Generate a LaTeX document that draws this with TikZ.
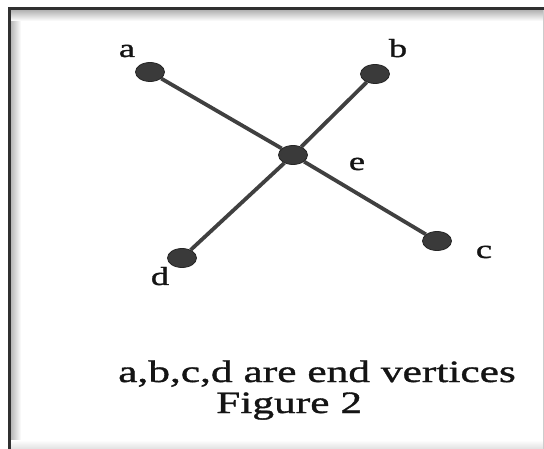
\documentclass[tikz,border=0pt]{standalone}
\usepackage{fontspec}
\setmainfont{Liberation Serif}[FakeStretch=1.4,FakeBold=1.2]
\usetikzlibrary{shapes.geometric}
\definecolor{edgegray}{HTML}{404040}
\definecolor{dotgray}{HTML}{3A3A3A}
\definecolor{framegray}{HTML}{303030}
\definecolor{inkcol}{HTML}{141414}
\tikzset{
  vertex/.style={ellipse, fill=dotgray, draw=black!85, line width=0.8pt,
    minimum width=29pt, minimum height=19pt, inner sep=0pt},
  edgeline/.style={draw=edgegray, line width=3.8pt},
  vlabel/.style={anchor=base, inner sep=0pt, text=inkcol,
    font=\fontsize{26}{26}\selectfont},
  captext/.style={anchor=base west, inner sep=0pt, text=inkcol,
    font=\fontsize{31}{31}\selectfont}
}
\begin{document}
\begin{tikzpicture}[x=1pt, y=-1pt]
  \useasboundingbox (0,0) rectangle (544,449);
  \fill[white] (0,0) rectangle (544,449);
  % frame shadows
  \shade[left color=black!30, right color=white] (10,10) rectangle (21,449);
  \shade[top color=black!30, bottom color=white] (10,10) rectangle (544,21);
  \shade[top color=white, bottom color=black!12] (10,440) rectangle (544,449);
  \draw[black!20, line width=1pt] (543,10) -- (543,449);
  % frame lines
  \draw[framegray, line width=3pt] (9,449) -- (9,8.5) -- (544,8.5);
  % vertices
  \node[vertex] (a) at (150,72) {};
  \node[vertex] (b) at (375,74) {};
  \node[vertex] (e) at (293,155) {};
  \node[vertex] (c) at (437,241) {};
  \node[vertex] (d) at (182,258) {};
  % edges
  \draw[edgeline] (a) -- (e);
  \draw[edgeline] (e) -- (c);
  \draw[edgeline] (b) -- (e);
  \draw[edgeline] (e) -- (d);
  % labels
  \node[vlabel] (la) at (127,57) {a};
  \node[vlabel] (lb) at (398,57) {b};
  \node[vlabel] (lc) at (484,258) {c};
  \node[vlabel] (ld) at (160,285) {d};
  \node[vlabel] (le) at (357,170) {e};
  % caption
  \node[captext] (cap1) at (118,382) {a,b,c,d are end vertices};
  \node[captext] (cap2) at (216,413) {Figure 2};
\end{tikzpicture}
\end{document}
